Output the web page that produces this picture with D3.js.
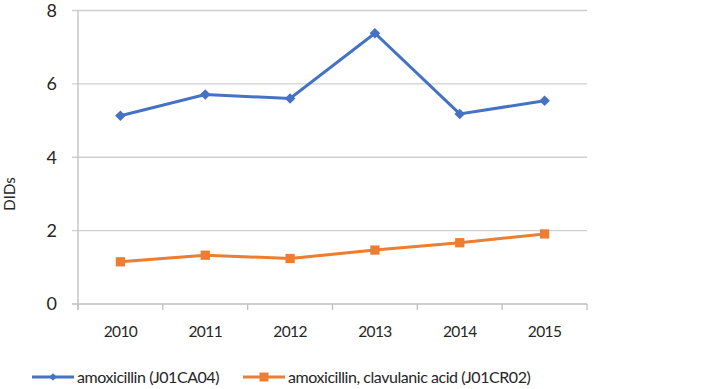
<!DOCTYPE html>
<html>
<head>
<meta charset="utf-8">
<script src="https://cdn.jsdelivr.net/npm/d3@7"></script>
<style>
  body { margin: 0; background: #fff; }
  text { font-family: Lato, "Open Sans", sans-serif; fill: #262626; }
</style>
</head>
<body>
<div id="chart"></div>
<script>
// categories and series
let years = ['2010', '2011', '2012', '2013', '2014', '2015'];
let amoxValues = [5.13, 5.71, 5.60, 7.38, 5.18, 5.54];
let clavValues = [1.15, 1.33, 1.24, 1.47, 1.67, 1.91];
let yTicks = [0, 2, 4, 6, 8];
let seriesNames = ['amoxicillin (J01CA04)', 'amoxicillin, clavulanic acid (J01CR02)'];

let width = 714, height = 389;
let plot = {left: 78, right: 587, top: 10.5, bottom: 304};

let svg = d3.select('#chart').append('svg')
    .attr('width', width)
    .attr('height', height);

let x = d3.scaleBand().domain(years).range([plot.left, plot.right]);
let y = d3.scaleLinear().domain([0, 8]).range([plot.bottom, plot.top]);

// horizontal gridlines (with little outside ticks)
svg.append('g').selectAll('line')
    .data(yTicks).enter().append('line')
    .attr('x1', plot.left - 6).attr('x2', plot.right)
    .attr('y1', d => y(d)).attr('y2', d => y(d))
    .style('stroke', d => d === 0 ? '#bfbfbf' : '#d0d0d0')
    .style('stroke-width', 1.3);

// vertical axis line
svg.append('line')
    .attr('x1', plot.left).attr('x2', plot.left)
    .attr('y1', plot.top).attr('y2', plot.bottom + 6)
    .style('stroke', '#bfbfbf').style('stroke-width', 1.3);

// x category boundary ticks
let bounds = years.map(d => x(d)).concat([plot.right]);
svg.append('g').selectAll('line')
    .data(bounds).enter().append('line')
    .attr('x1', d => d).attr('x2', d => d)
    .attr('y1', plot.bottom).attr('y2', plot.bottom + 6)
    .style('stroke', '#bfbfbf').style('stroke-width', 1.3);

// y tick labels
svg.append('g').selectAll('text')
    .data(yTicks).enter().append('text')
    .attr('x', 57).attr('y', d => y(d))
    .attr('dy', '0.36em')
    .attr('text-anchor', 'end')
    .style('font-size', '18px')
    .text(d => d);

// x tick labels
svg.append('g').selectAll('text')
    .data(years).enter().append('text')
    .attr('x', d => x(d) + x.bandwidth() / 2)
    .attr('y', 337)
    .attr('text-anchor', 'middle')
    .style('font-size', '15.5px')
    .style('letter-spacing', '-0.6px')
    .text(d => d);

// y axis title
svg.append('text')
    .attr('transform', 'translate(15,194) rotate(-90)')
    .attr('text-anchor', 'middle')
    .style('font-size', '15px')
    .text('DIDs');

let line = d3.line()
    .x((d, i) => x(years[i]) + x.bandwidth() / 2)
    .y(d => y(d));

// diamond = square turned by 45 degrees
let series = [
  {values: amoxValues, color: '#4472C4', rot: 45, size: 56, legendSize: 30},
  {values: clavValues, color: '#ED7D31', rot: 0, size: 86, legendSize: 80}
];

series.forEach(s => {
  svg.append('path')
      .datum(s.values)
      .attr('d', line)
      .style('fill', 'none')
      .style('stroke', s.color)
      .style('stroke-width', 3);

  svg.append('g').selectAll('path')
      .data(s.values).enter().append('path')
      .attr('transform', (d, i) => 'translate(' + (x(years[i]) + x.bandwidth() / 2) + ',' + y(d) + ') rotate(' + s.rot + ')')
      .attr('d', d3.symbol().type(d3.symbolSquare).size(s.size))
      .style('fill', s.color);
});

// legend
let legendX = [32, 243];
let legend = svg.append('g').selectAll('g')
    .data(series).enter().append('g')
    .attr('transform', (d, i) => 'translate(' + legendX[i] + ',377)');

legend.append('line')
    .attr('x1', 0).attr('x2', 42)
    .style('stroke', d => d.color)
    .style('stroke-width', 3);

legend.append('path')
    .attr('transform', d => 'translate(21,0) rotate(' + d.rot + ')')
    .attr('d', d => d3.symbol().type(d3.symbolSquare).size(d.legendSize)())
    .style('fill', d => d.color);

legend.append('text')
    .attr('x', 45).attr('dy', '0.36em')
    .style('font-size', '16px')
    .style('letter-spacing', '-0.45px')
    .text((d, i) => seriesNames[i]);
</script>
</body>
</html>
